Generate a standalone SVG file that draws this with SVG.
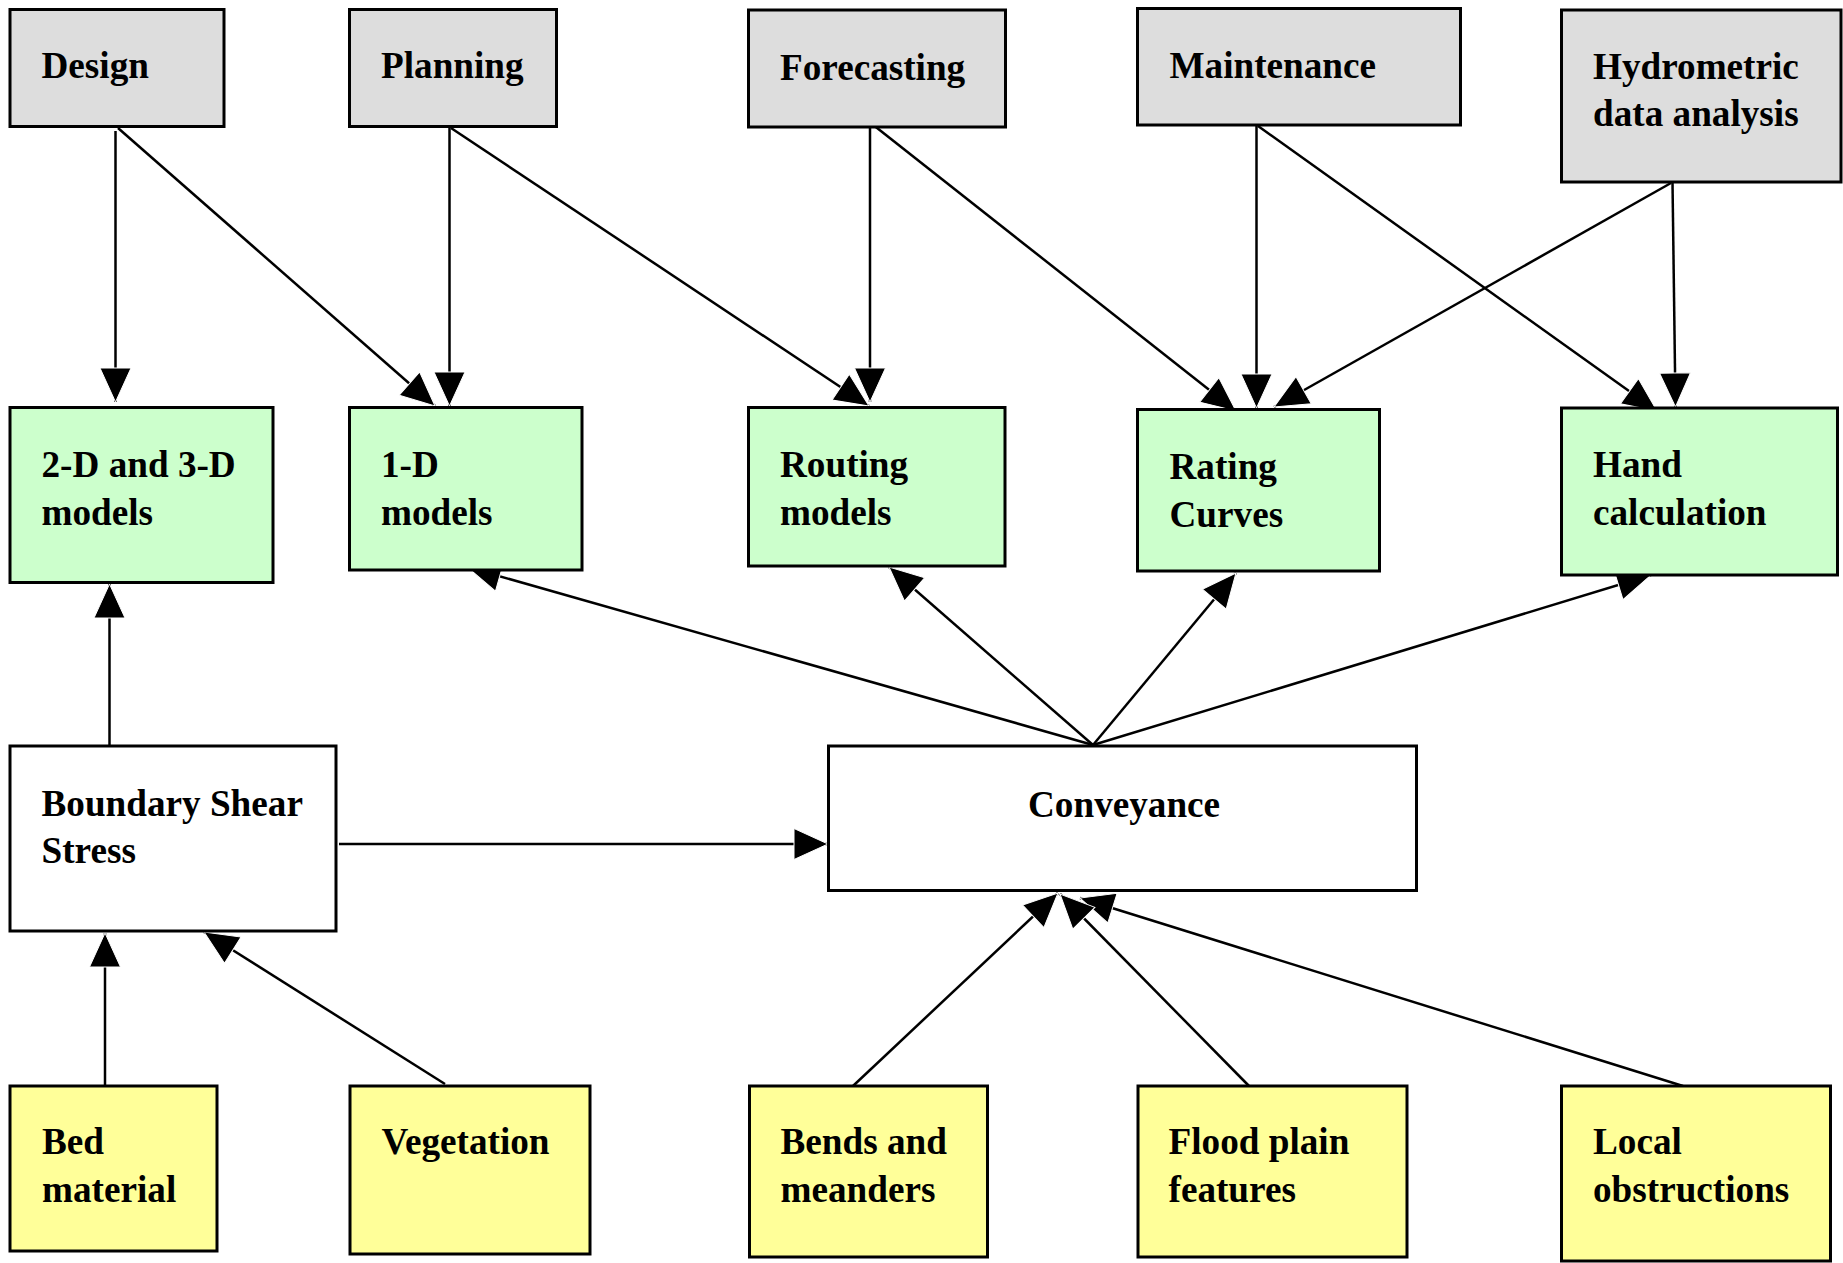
<svg xmlns="http://www.w3.org/2000/svg" width="1843" height="1263" viewBox="0 0 1843 1263">
<style>
  .box { stroke: #000; stroke-width: 3; }
  .gray { fill: #DDDDDD; }
  .green { fill: #CCFFCC; }
  .yellow { fill: #FFFF99; }
  .white { fill: #FFFFFF; }
  .lbl { font-family: "Liberation Serif", "Times New Roman", serif; font-weight: bold; font-size: 37.2px; fill: #000; }
  .conn line { stroke: #000; stroke-width: 2.5; marker-end: url(#arrow); }
</style>
<defs>
  <marker id="arrow" markerUnits="userSpaceOnUse" markerWidth="36" markerHeight="33" refX="34" refY="15.5" orient="auto" viewBox="-1 -1 36 33">
    <path d="M0,0 L34,15.5 L0,31 Z" fill="#000" stroke="#fff" stroke-width="1"/>
  </marker>
</defs>
<rect width="1843" height="1263" fill="#fff"/>

<g id="connectors" class="conn">
  <line x1="115.5" y1="131" x2="115.5" y2="402"/>
  <line x1="118" y1="128" x2="435" y2="406"/>
  <line x1="449.5" y1="127" x2="449.5" y2="406"/>
  <line x1="451" y1="128" x2="869" y2="406"/>
  <line x1="870" y1="126" x2="870" y2="402"/>
  <line x1="872" y1="124" x2="1236" y2="411"/>
  <line x1="1256.5" y1="126" x2="1256.5" y2="408"/>
  <line x1="1258" y1="126" x2="1657" y2="411"/>
  <line x1="1671" y1="183" x2="1274" y2="407"/>
  <line x1="1672.5" y1="182" x2="1675.5" y2="407"/>
  <line x1="1093" y1="745" x2="467" y2="567"/>
  <line x1="1093" y1="745" x2="889" y2="567"/>
  <line x1="1093" y1="745" x2="1236" y2="573"/>
  <line x1="1093" y1="745" x2="1651" y2="575"/>
  <line x1="109.5" y1="745" x2="109.5" y2="584"/>
  <line x1="339" y1="844" x2="828" y2="844"/>
  <line x1="105" y1="1088" x2="105" y2="933"/>
  <line x1="445" y1="1084" x2="204" y2="932"/>
  <line x1="1683" y1="1086" x2="1080" y2="898"/>
  <line x1="1250" y1="1087" x2="1060" y2="894"/>
  <line x1="853" y1="1086" x2="1058" y2="893"/>
</g>

<g id="design"><rect class="box gray" x="10" y="9.5" width="214" height="117"/><text class="lbl" x="41.5" y="78">Design</text></g>
<g id="planning"><rect class="box gray" x="349.5" y="9.5" width="207" height="117"/><text class="lbl" x="381" y="78">Planning</text></g>
<g id="forecasting"><rect class="box gray" x="748.5" y="10" width="257" height="117"/><text class="lbl" x="780" y="80">Forecasting</text></g>
<g id="maintenance"><rect class="box gray" x="1137.5" y="8.5" width="323" height="116.5"/><text class="lbl" x="1169.5" y="78">Maintenance</text></g>
<g id="hydrometric"><rect class="box gray" x="1561.5" y="10" width="279.5" height="172"/><text class="lbl" x="1593" y="79"><tspan x="1593">Hydrometric</tspan><tspan x="1593" dy="47">data analysis</tspan></text></g>

<g id="models2d3d"><rect class="box green" x="10" y="407.5" width="263" height="175"/><text class="lbl" x="41.5" y="477"><tspan x="41.5">2-D and 3-D</tspan><tspan x="41.5" dy="48">models</tspan></text></g>
<g id="models1d"><rect class="box green" x="349.5" y="407.5" width="232.5" height="162.5"/><text class="lbl" x="381" y="477"><tspan x="381">1-D</tspan><tspan x="381" dy="48">models</tspan></text></g>
<g id="routing"><rect class="box green" x="748.5" y="407.5" width="256.5" height="158.5"/><text class="lbl" x="780" y="477"><tspan x="780">Routing</tspan><tspan x="780" dy="48">models</tspan></text></g>
<g id="rating"><rect class="box green" x="1137.5" y="409.5" width="242" height="161.5"/><text class="lbl" x="1169.5" y="479"><tspan x="1169.5">Rating</tspan><tspan x="1169.5" dy="48">Curves</tspan></text></g>
<g id="hand"><rect class="box green" x="1561.5" y="408" width="276" height="167"/><text class="lbl" x="1593" y="477"><tspan x="1593">Hand</tspan><tspan x="1593" dy="48">calculation</tspan></text></g>

<g id="boundary"><rect class="box white" x="10" y="746" width="326" height="185"/><text class="lbl" x="41.5" y="816"><tspan x="41.5">Boundary Shear</tspan><tspan x="41.5" dy="47">Stress</tspan></text></g>
<g id="conveyance"><rect class="box white" x="828.5" y="746" width="588" height="144.5"/><text class="lbl" x="1028" y="817">Conveyance</text></g>

<g id="bed"><rect class="box yellow" x="10" y="1086" width="207" height="165"/><text class="lbl" x="42" y="1154"><tspan x="42">Bed</tspan><tspan x="42" dy="48">material</tspan></text></g>
<g id="vegetation"><rect class="box yellow" x="350" y="1086" width="240" height="168"/><text class="lbl" x="381.5" y="1154">Vegetation</text></g>
<g id="bends"><rect class="box yellow" x="749.5" y="1086" width="238" height="171"/><text class="lbl" x="780.5" y="1154"><tspan x="780.5">Bends and</tspan><tspan x="780.5" dy="48">meanders</tspan></text></g>
<g id="floodplain"><rect class="box yellow" x="1138" y="1086" width="269" height="171"/><text class="lbl" x="1168.5" y="1154"><tspan x="1168.5">Flood plain</tspan><tspan x="1168.5" dy="48">features</tspan></text></g>
<g id="local"><rect class="box yellow" x="1561.5" y="1086" width="269" height="175"/><text class="lbl" x="1593" y="1154"><tspan x="1593">Local</tspan><tspan x="1593" dy="48">obstructions</tspan></text></g>
</svg>
